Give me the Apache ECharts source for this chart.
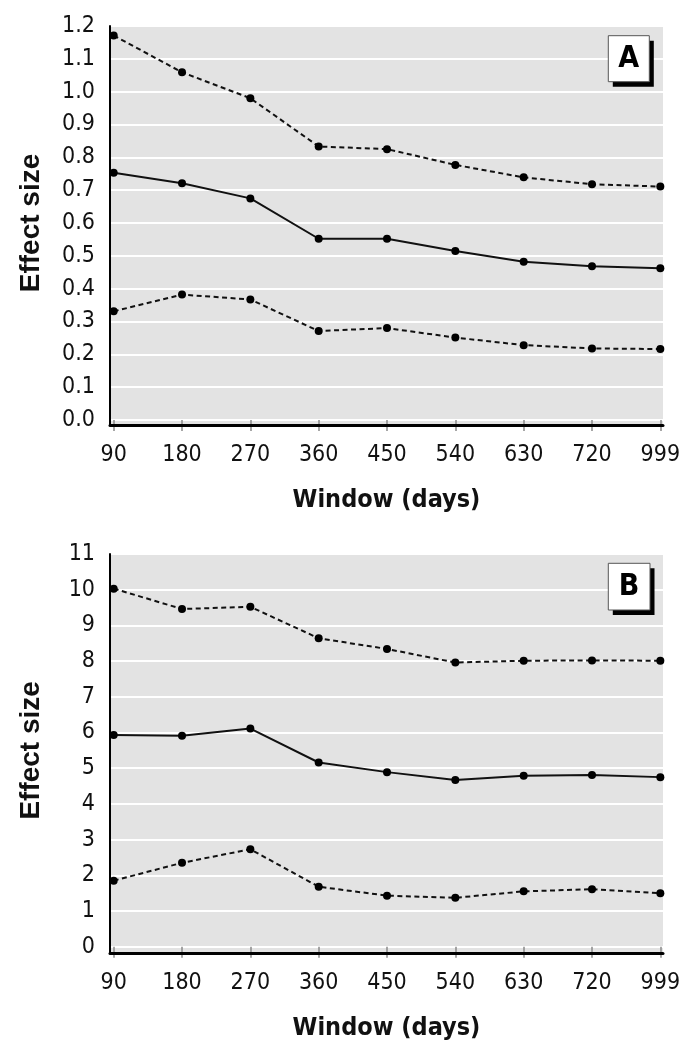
<!DOCTYPE html>
<html>
<head>
<meta charset="utf-8">
<script src="https://cdn.jsdelivr.net/npm/echarts@6/dist/echarts.min.js"></script>
<style>
html,body{margin:0;padding:0;background:#fff;}
#chart{width:688px;height:1057px;}
</style>
</head>
<body>
<div id="chart"></div>
<script>
// ---- data ----
const categories = ['90','180','270','360','450','540','630','720','999'];
const aUpper = [1.171, 1.059, 0.980, 0.833, 0.825, 0.777, 0.739, 0.718, 0.711];
const aMid   = [0.753, 0.721, 0.675, 0.552, 0.552, 0.515, 0.482, 0.468, 0.462];
const aLower = [0.331, 0.382, 0.367, 0.271, 0.280, 0.251, 0.228, 0.218, 0.216];
const bUpper = [10.03, 9.46, 9.52, 8.64, 8.34, 7.96, 8.01, 8.02, 8.01];
const bMid   = [5.93, 5.91, 6.11, 5.16, 4.89, 4.67, 4.79, 4.81, 4.75];
const bLower = [1.85, 2.35, 2.73, 1.68, 1.43, 1.37, 1.55, 1.61, 1.50];
const panelLabels = ['A', 'B'];
const xTitle = 'Window (days)';
const yTitle = 'Effect size';

// ---- helpers ----
const idx = categories.map((c, i) => i);
const pairs = arr => arr.map((v, i) => [i, v]);
const narrow = "'Liberation Sans Narrow', 'DejaVu Sans Condensed', sans-serif";
const boldCond = "'DejaVu Sans Condensed', 'Liberation Sans Narrow', sans-serif";

const GRAY = '#e3e3e3';
const L = 110, W = 553;
const panels = [
  { top: 26, plotH: 394, backH: 399, min: 0, max: 1.2, interval: 0.1, fmt: v => v.toFixed(1), offset: 5,
    series: [aUpper, aMid, aLower] },
  { top: 554, plotH: 392.7, backH: 399.3, min: 0, max: 11, interval: 1, fmt: v => String(Math.round(v)), offset: 6.3,
    series: [bUpper, bMid, bLower] }
];

const grid = [], xAxis = [], yAxis = [], series = [];
panels.forEach((p, k) => {
  // backing grid: gray field + black axis lines
  grid.push({ left: L, top: p.top, width: W, height: p.backH, show: true, backgroundColor: GRAY, borderWidth: 0, z: -1 });
  const gb = grid.length - 1;
  xAxis.push({ gridIndex: gb, type: 'value', min: 0, max: 1, z: 5,
    axisLine: { show: true, lineStyle: { color: '#000', width: 3 } },
    axisTick: { show: false }, axisLabel: { show: false }, splitLine: { show: false } });
  yAxis.push({ gridIndex: gb, type: 'value', min: 0, max: 1, z: 5,
    axisLine: { show: true, lineStyle: { color: '#000', width: 2 } },
    axisTick: { show: false }, axisLabel: { show: false }, splitLine: { show: false } });
  // main grid
  grid.push({ left: L, top: p.top, width: W, height: p.plotH, show: false });
  const gm = grid.length - 1;
  xAxis.push({ gridIndex: gm, type: 'value', min: -0.054, max: 8.039, offset: p.offset,
    axisLine: { show: false },
    axisTick: { show: true, customValues: idx, length: 11, lineStyle: { color: '#8a8a8a', width: 1.5 } },
    axisLabel: { show: true, customValues: idx, formatter: v => categories[v], margin: 19,
      fontFamily: narrow, fontSize: 23, color: '#111' },
    splitLine: { show: false },
    name: xTitle, nameLocation: 'middle', nameGap: 63,
    nameTextStyle: { fontFamily: boldCond, fontWeight: 'bold', fontSize: 25, color: '#111' } });
  yAxis.push({ gridIndex: gm, type: 'value', min: p.min, max: p.max, interval: p.interval,
    axisLine: { show: false }, axisTick: { show: false },
    axisLabel: { formatter: p.fmt, margin: 15, fontFamily: narrow, fontSize: 23, color: '#111' },
    splitLine: { show: true, lineStyle: { color: '#ffffff', width: 2 } },
    name: yTitle, nameLocation: 'middle', nameGap: 65, nameRotate: 90,
    nameTextStyle: { fontFamily: "'Liberation Sans', Arial, sans-serif", fontWeight: 'bold', fontSize: 28, color: '#111' } });
  const ax = xAxis.length - 1;
  p.series.forEach((arr, j) => {
    series.push({ type: 'line', xAxisIndex: ax, yAxisIndex: ax, data: pairs(arr),
      symbol: 'circle', symbolSize: 8, showSymbol: true, z: 3,
      itemStyle: { color: '#000' },
      lineStyle: { color: '#111', width: 2, type: j === 1 ? 'solid' : [5, 3.5] } });
  });
});

// panel letter boxes
const boxes = [
  { x: 608.3, y: 35.7, w: 41, h: 46 },
  { x: 608.3, y: 563.3, w: 41.7, h: 46.7 }
];
const graphic = [];
boxes.forEach((b, k) => {
  graphic.push({ type: 'rect', z: 100, shape: { x: b.x + 4.5, y: b.y + 5, width: b.w, height: b.h }, style: { fill: '#000' } });
  graphic.push({ type: 'rect', z: 101, shape: { x: b.x, y: b.y, width: b.w, height: b.h }, style: { fill: '#fff', stroke: '#555', lineWidth: 1 } });
  graphic.push({ type: 'text', z: 102, x: b.x + b.w / 2, y: b.y + b.h / 2 + 1,
    style: { text: panelLabels[k], fontFamily: boldCond, fontWeight: 'bold', fontSize: 30, fill: '#000', align: 'center', verticalAlign: 'middle' } });
});

const chart = echarts.init(document.getElementById('chart'), null, { renderer: 'canvas' });
chart.setOption({ animation: false, backgroundColor: '#fff', grid, xAxis, yAxis, series, graphic });
</script>
</body>
</html>
